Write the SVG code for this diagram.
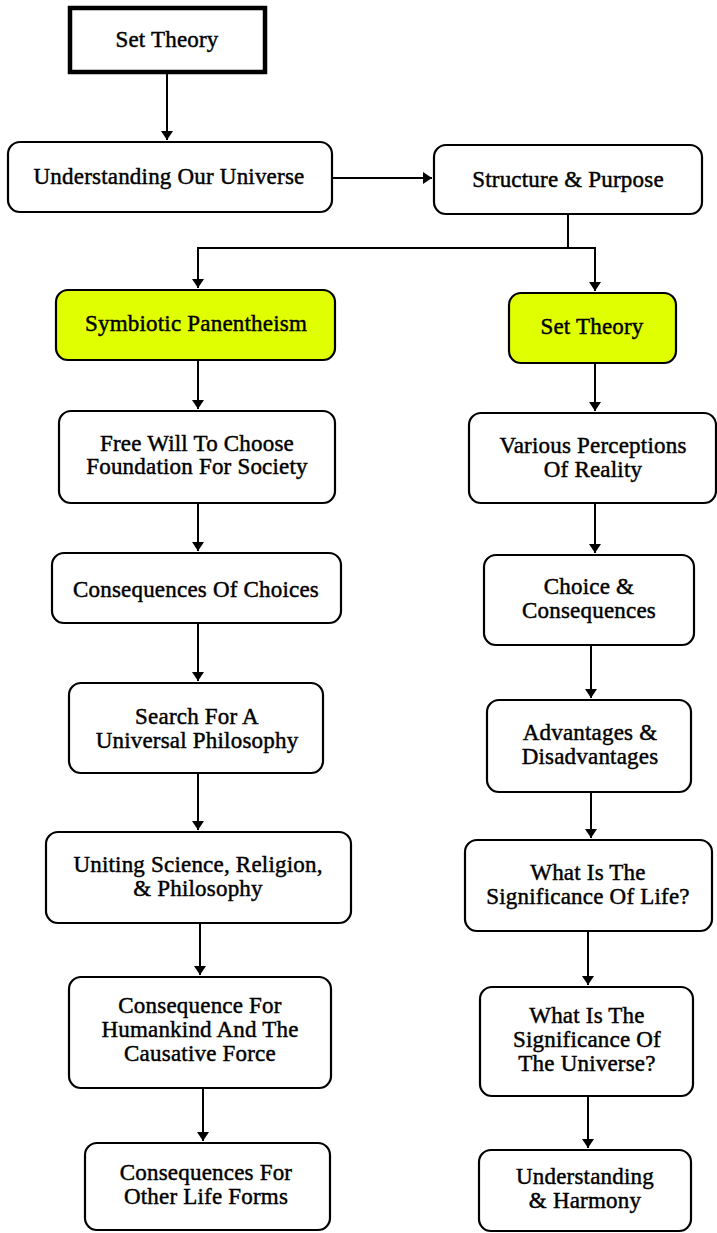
<svg xmlns="http://www.w3.org/2000/svg" width="717" height="1233" viewBox="0 0 717 1233">
<defs>
<marker id="ah" markerWidth="9" markerHeight="12" refX="9" refY="6" orient="auto" markerUnits="userSpaceOnUse">
<path d="M0,0 L9,6 L0,12 Z" fill="#000"/>
</marker>
<style>
.n{fill:#fff;stroke:#000;stroke-width:2.2}
.y{fill:#e0ff00;stroke:#000;stroke-width:2.2}
.t{font-family:"Liberation Serif",serif;font-size:23px;fill:#000;stroke:#000;stroke-width:0.45;text-anchor:middle;letter-spacing:0.2px}
.c{fill:none;stroke:#000;stroke-width:2}
</style>
</defs>
<rect width="717" height="1233" fill="#fff"/>
<g id="connectors">
<path class="c" d="M167,73 V140" marker-end="url(#ah)"/>
<path class="c" d="M332,178 H432" marker-end="url(#ah)"/>
<path class="c" d="M568,214 V248 H198 V288" marker-end="url(#ah)"/>
<path class="c" d="M568,248 H595 V291" marker-end="url(#ah)"/>
<path class="c" d="M198,360 V409" marker-end="url(#ah)"/>
<path class="c" d="M198,503 V551" marker-end="url(#ah)"/>
<path class="c" d="M198,623 V681" marker-end="url(#ah)"/>
<path class="c" d="M198,773 V830" marker-end="url(#ah)"/>
<path class="c" d="M200,923 V975" marker-end="url(#ah)"/>
<path class="c" d="M203,1088 V1141" marker-end="url(#ah)"/>
<path class="c" d="M595,363 V411" marker-end="url(#ah)"/>
<path class="c" d="M595,503 V553" marker-end="url(#ah)"/>
<path class="c" d="M591,645 V698" marker-end="url(#ah)"/>
<path class="c" d="M591,792 V838" marker-end="url(#ah)"/>
<path class="c" d="M588,931 V985" marker-end="url(#ah)"/>
<path class="c" d="M588,1096 V1148" marker-end="url(#ah)"/>
</g>
<g id="n-settheory-top">
<rect x="70" y="8" width="195" height="64" fill="#fff" stroke="#000" stroke-width="4.5"/>
<text class="t" x="167" y="47">Set Theory</text>
</g>
<g id="n-understanding-universe">
<rect class="n" x="8" y="142" width="324" height="70" rx="12"/>
<text class="t" x="169" y="184">Understanding Our Universe</text>
</g>
<g id="n-structure-purpose">
<rect class="n" x="434" y="145" width="268" height="69" rx="12"/>
<text class="t" x="568" y="187">Structure &amp; Purpose</text>
</g>
<g id="n-symbiotic">
<rect class="y" x="56" y="290" width="279" height="70" rx="12"/>
<text class="t" x="196" y="331">Symbiotic Panentheism</text>
</g>
<g id="n-settheory-right">
<rect class="y" x="509" y="293" width="167" height="70" rx="12"/>
<text class="t" x="592" y="334">Set Theory</text>
</g>
<g id="n-freewill">
<rect class="n" x="59" y="411" width="276" height="92" rx="12"/>
<text class="t" x="197" y="451">Free Will To Choose</text>
<text class="t" x="197" y="474">Foundation For Society</text>
</g>
<g id="n-perceptions">
<rect class="n" x="469" y="413" width="247" height="90" rx="12"/>
<text class="t" x="593" y="453">Various Perceptions</text>
<text class="t" x="593" y="477">Of Reality</text>
</g>
<g id="n-consequences-choices">
<rect class="n" x="52" y="553" width="289" height="70" rx="12"/>
<text class="t" x="196" y="597">Consequences Of Choices</text>
</g>
<g id="n-choice-consequences">
<rect class="n" x="484" y="555" width="210" height="90" rx="12"/>
<text class="t" x="589" y="594">Choice &amp;</text>
<text class="t" x="589" y="618">Consequences</text>
</g>
<g id="n-search">
<rect class="n" x="69" y="683" width="254" height="90" rx="12"/>
<text class="t" x="197" y="724">Search For A</text>
<text class="t" x="197" y="748">Universal Philosophy</text>
</g>
<g id="n-advantages">
<rect class="n" x="487" y="700" width="204" height="92" rx="12"/>
<text class="t" x="590" y="740">Advantages &amp;</text>
<text class="t" x="590" y="764">Disadvantages</text>
</g>
<g id="n-uniting">
<rect class="n" x="46" y="832" width="305" height="91" rx="12"/>
<text class="t" x="198" y="872">Uniting Science, Religion,</text>
<text class="t" x="198" y="896">&amp; Philosophy</text>
</g>
<g id="n-significance-life">
<rect class="n" x="465" y="840" width="247" height="91" rx="12"/>
<text class="t" x="588" y="880">What Is The</text>
<text class="t" x="588" y="904">Significance Of Life?</text>
</g>
<g id="n-humankind">
<rect class="n" x="69" y="977" width="262" height="111" rx="12"/>
<text class="t" x="200" y="1013">Consequence For</text>
<text class="t" x="200" y="1037">Humankind And The</text>
<text class="t" x="200" y="1061">Causative Force</text>
</g>
<g id="n-significance-universe">
<rect class="n" x="480" y="987" width="213" height="109" rx="12"/>
<text class="t" x="587" y="1023">What Is The</text>
<text class="t" x="587" y="1047">Significance Of</text>
<text class="t" x="587" y="1071">The Universe?</text>
</g>
<g id="n-otherlife">
<rect class="n" x="85" y="1143" width="245" height="87" rx="12"/>
<text class="t" x="206" y="1180">Consequences For</text>
<text class="t" x="206" y="1204">Other Life Forms</text>
</g>
<g id="n-harmony">
<rect class="n" x="479" y="1150" width="212" height="81" rx="12"/>
<text class="t" x="585" y="1184">Understanding</text>
<text class="t" x="585" y="1208">&amp; Harmony</text>
</g>
</svg>
